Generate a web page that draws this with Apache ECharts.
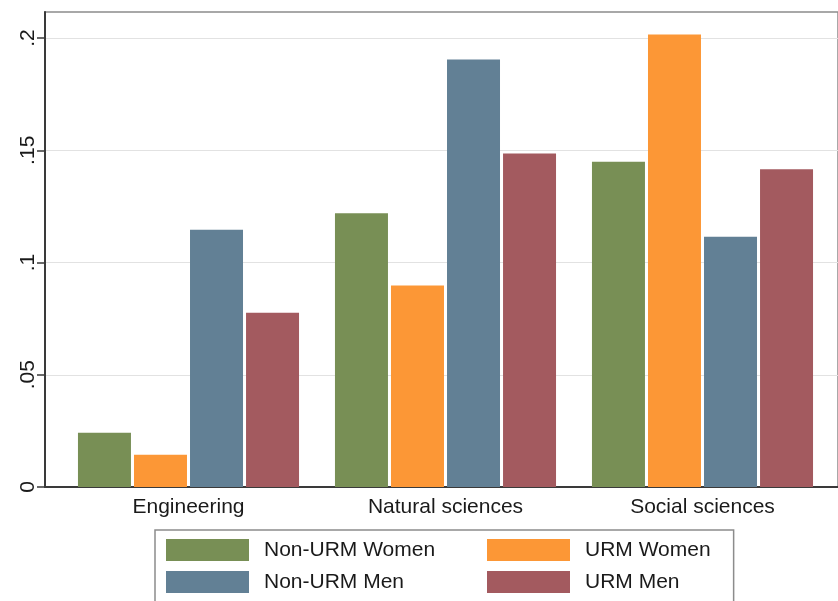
<!DOCTYPE html>
<html>
<head>
<meta charset="utf-8">
<script src="https://cdn.jsdelivr.net/npm/echarts@6/dist/echarts.min.js"></script>
<style>html,body{margin:0;padding:0;background:#fff}#c{width:838px;height:601px}</style>
</head>
<body>
<div id="c"></div>
<script>
const categories = ['Engineering', 'Natural sciences', 'Social sciences'];
const nonUrmWomen = [0.0242, 0.1219, 0.1449];
const urmWomen    = [0.0144, 0.0898, 0.2016];
const nonUrmMen   = [0.1146, 0.1904, 0.1115];
const urmMen      = [0.0776, 0.1486, 0.1415];
const seriesNames = ['Non-URM Women', 'URM Women', 'Non-URM Men', 'URM Men'];
const tickValues = [0, 0.05, 0.1, 0.15, 0.2];
const tickLabels = ['0', '.05', '.1', '.15', '.2'];
const yMax = 0.2116;

const colors = ['#788f55', '#fc9736', '#628095', '#a35a5f'];
const FONT = 'Liberation Sans';
const leftCol = ['Non-URM Women', 'Non-URM Men'];

const chart = echarts.init(document.getElementById('c'), null, {renderer: 'canvas'});
const seriesData = [nonUrmWomen, urmWomen, nonUrmMen, urmMen];

chart.setOption({
  animation: false,
  backgroundColor: '#ffffff',
  textStyle: {fontFamily: FONT},
  grid: [
    {left: 60, width: 771, top: 12, height: 475},
    {left: 45, width: 810, top: 12, height: 475, show: true, borderColor: '#8c8c8c', borderWidth: 1.5, z: 0}
  ],
  xAxis: [
    {
      type: 'category', gridIndex: 0, data: categories,
      axisLine: {show: false}, axisTick: {show: false},
      axisLabel: {fontFamily: FONT, fontSize: 21, color: '#1a1a1a', margin: 10}
    },
    {
      type: 'value', gridIndex: 1, min: 0, max: 1,
      axisLine: {show: true, lineStyle: {color: '#3a3a3a', width: 2}},
      axisTick: {show: false}, axisLabel: {show: false}, splitLine: {show: false}
    }
  ],
  yAxis: [
    {type: 'value', gridIndex: 0, min: 0, max: yMax, show: false, splitLine: {show: false}},
    {
      type: 'value', gridIndex: 1, min: 0, max: yMax, interval: 0.05,
      axisLine: {show: true, lineStyle: {color: '#3a3a3a', width: 2}},
      axisTick: {show: true, length: 8, customValues: tickValues, lineStyle: {color: '#3a3a3a', width: 1.5}},
      axisLabel: {
        customValues: tickValues, rotate: 90, margin: 6,
        fontFamily: FONT, fontSize: 21, color: '#1a1a1a',
        formatter: v => {
          const i = tickValues.findIndex(t => Math.abs(t - v) < 1e-9);
          return i >= 0 ? tickLabels[i] : '';
        }
      },
      splitLine: {show: true, lineStyle: {color: '#e2e2e2', width: 1.2}}
    }
  ],
  legend: {
    data: seriesNames,
    left: 155, top: 530, width: 560,
    padding: [9, 23, 12, 11],
    borderColor: '#8c8c8c', borderWidth: 1.5,
    itemWidth: 83, itemHeight: 22, itemGap: 10,
    icon: 'rect',
    formatter: name => leftCol.includes(name) ? '{l|' + name + '}' : '{r|' + name + '}',
    textStyle: {
      fontFamily: FONT, fontSize: 21, color: '#1a1a1a',
      rich: {
        l: {fontFamily: FONT, fontSize: 21, color: '#1a1a1a', width: 213, padding: [0, 0, 0, 10], lineHeight: 22},
        r: {fontFamily: FONT, fontSize: 21, color: '#1a1a1a', padding: [0, 0, 0, 10], lineHeight: 22}
      }
    }
  },
  series: seriesNames.map((name, i) => ({
    name, type: 'bar', xAxisIndex: 0, yAxisIndex: 0,
    data: seriesData[i],
    barWidth: 53, barGap: '5.7%',
    itemStyle: {color: colors[i]},
    z: 3
  }))
});
</script>
</body>
</html>
